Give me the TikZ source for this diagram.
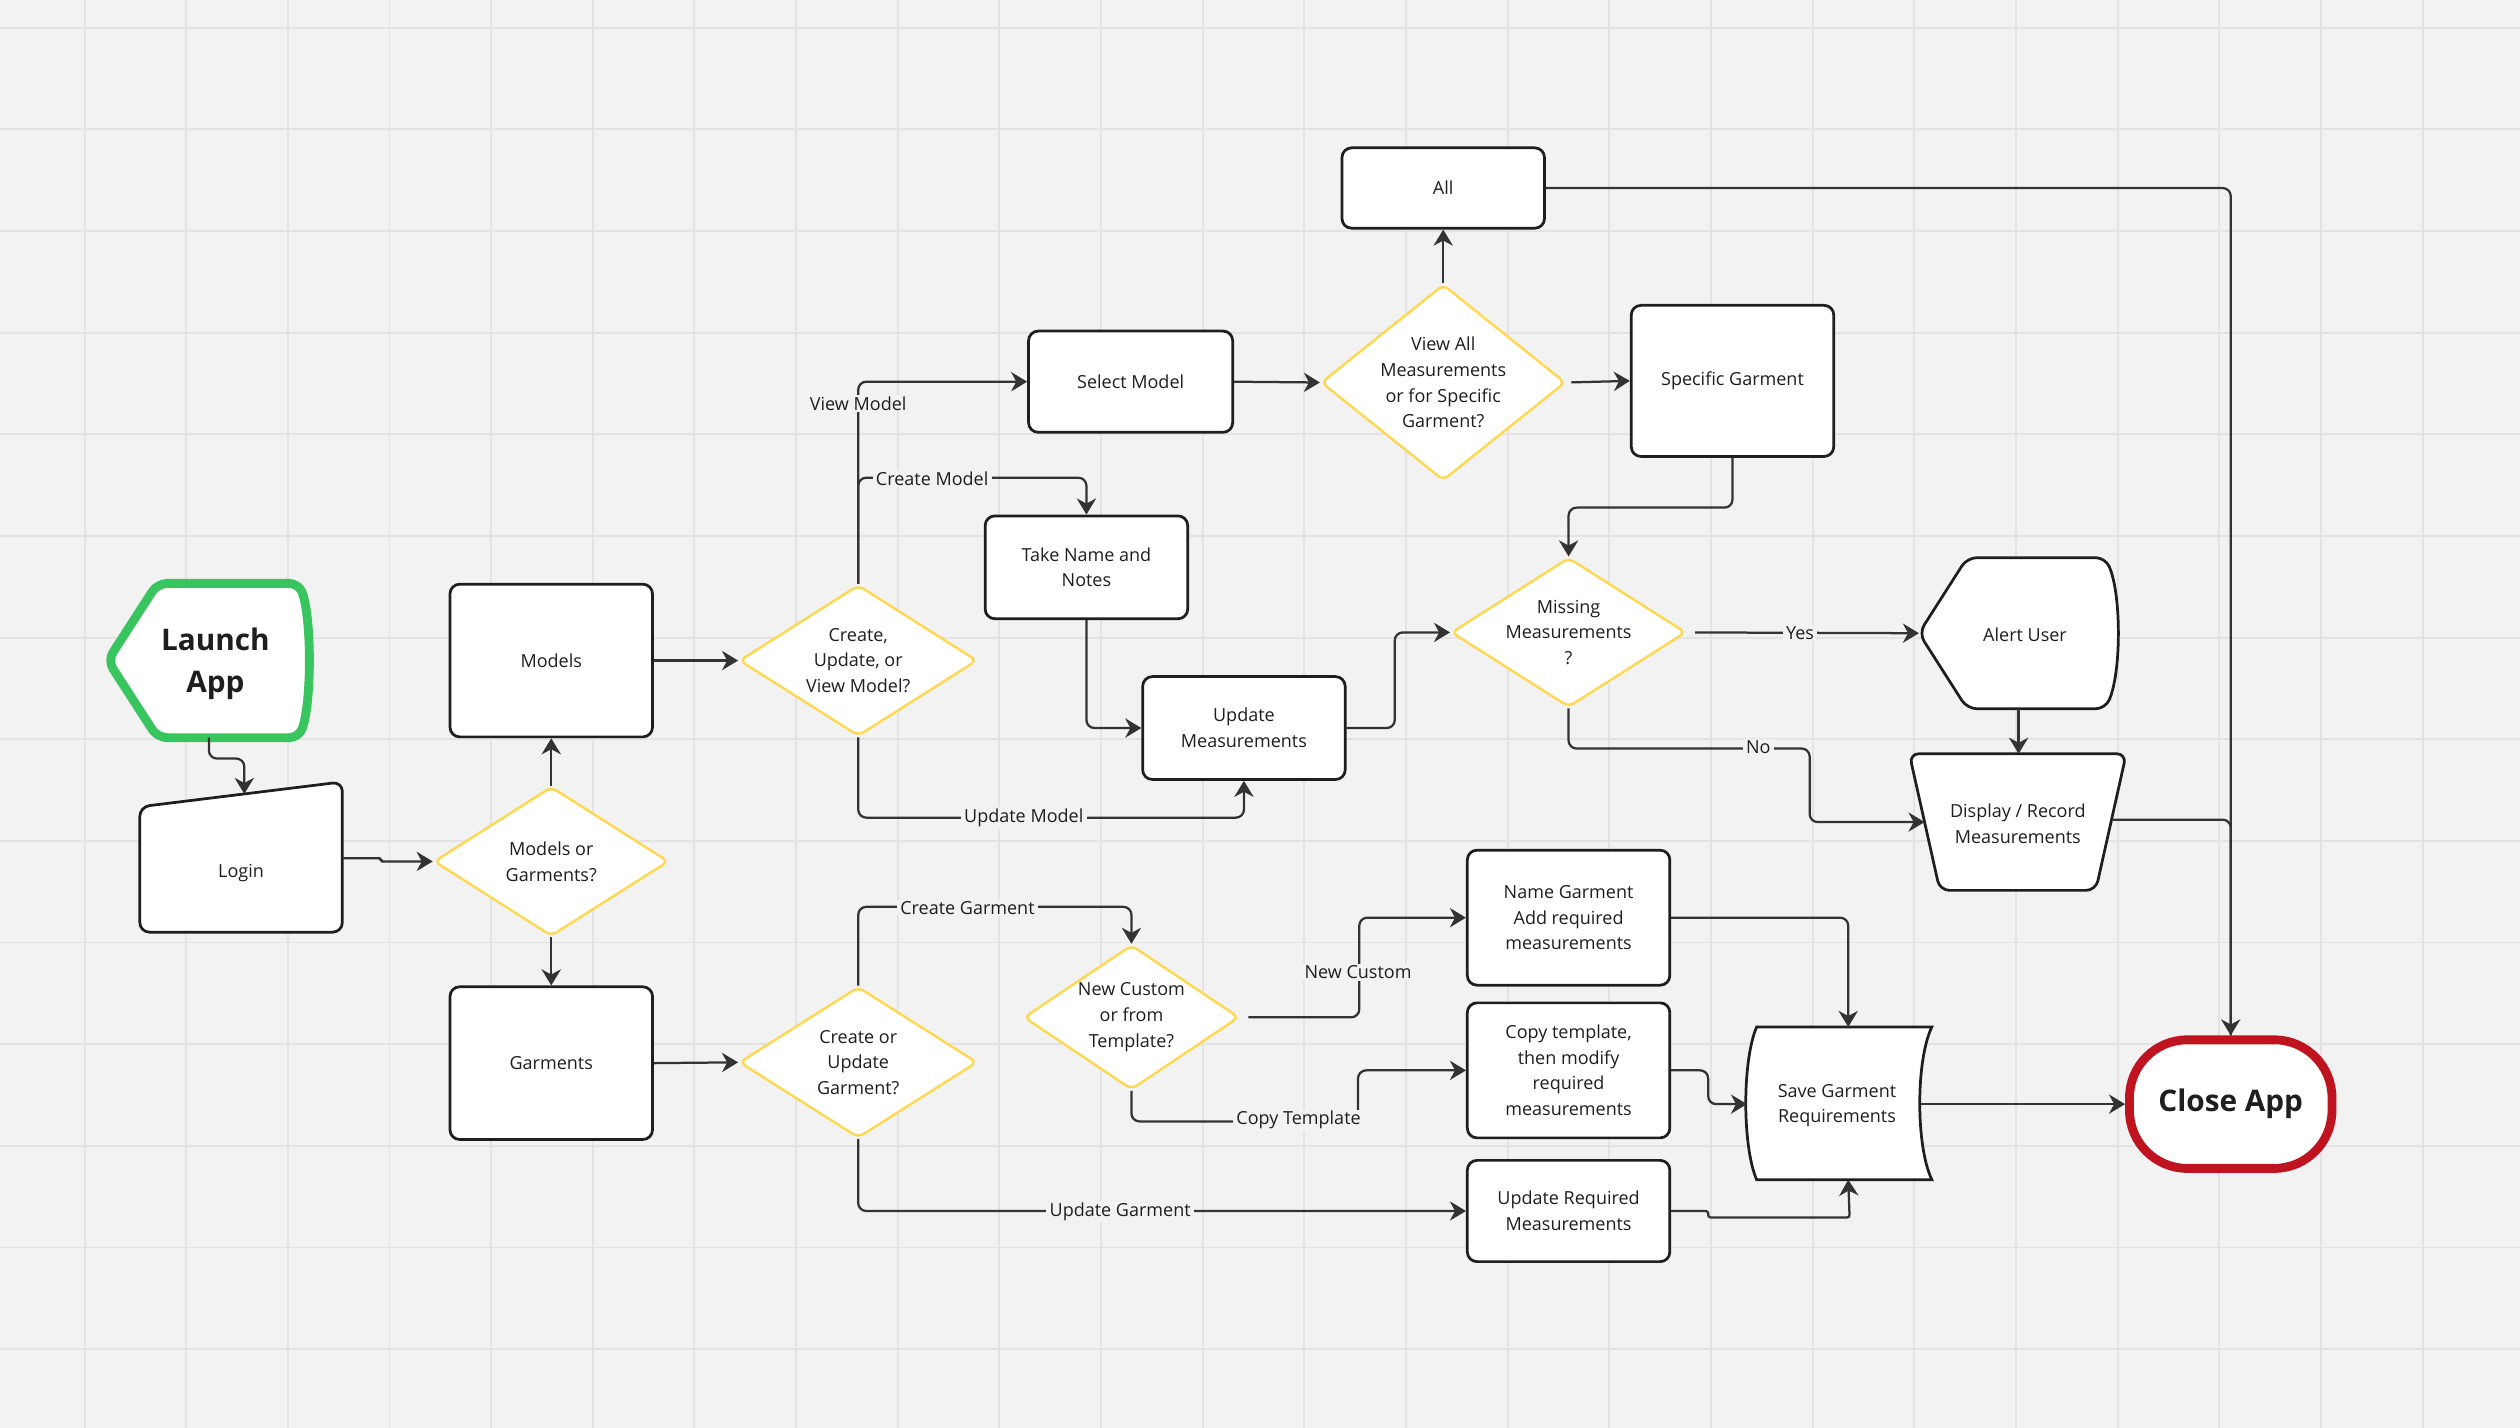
\documentclass[tikz,border=0pt]{standalone}
\usepackage{fontspec}
\setmainfont{Open Sans}
\usetikzlibrary{shapes.geometric,arrows.meta,calc}
\definecolor{bg}{HTML}{F2F2F2}
\definecolor{gridc}{HTML}{E3E3E3}
\definecolor{ink}{HTML}{1E1E1E}
\definecolor{lineC}{HTML}{333333}
\definecolor{yel}{HTML}{FFD84F}
\definecolor{grn}{HTML}{38C45E}
\definecolor{redc}{HTML}{BF1420}
\begin{document}
\begin{tikzpicture}[x=1pt,y=-1pt,
  font=\fontsize{11.2}{16}\selectfont,
  box/.style={draw=ink, line width=1.7, fill=white, rounded corners=6, align=center, inner sep=2, text=ink},
  dia/.style={diamond, draw=yel, line width=1.5, fill=white, rounded corners=4, align=center, inner sep=0, text=ink},
  txtonly/.style={align=center, inner sep=0, text=ink},
  shapeline/.style={draw=ink, line width=1.7, fill=white, rounded corners=6},
  conn/.style={draw=lineC, line width=1.4, rounded corners=5, -{Stealth[length=10pt,width=12pt,inset=3.2pt]}},
  plainline/.style={draw=lineC, line width=1.4, rounded corners=5},
  lbl/.style={fill=bg, inner xsep=2, inner ysep=1, text=ink},
  bigbold/.style={font=\bfseries\fontsize{18.5}{26}\selectfont}]
\useasboundingbox (0,0) rectangle (1568,888.5);
\fill[bg] (0,0) rectangle (1568,888.5);
\foreach \k in {0,...,23} \draw[gridc, line width=1.2] ({52.6+63.25*\k},0) -- ({52.6+63.25*\k},888.5);
\foreach \k in {0,...,13} \draw[gridc, line width=1.2] (0,{17.2+63.25*\k}) -- (1568,{17.2+63.25*\k});

% special shapes drawn directly
\draw[draw=grn, line width=5.5, fill=white, rounded corners=6]
  (98,363) -- (186,363) .. controls (194,385) and (194,437) .. (186,459) -- (98,459) -- (67,411) -- cycle;
\draw[shapeline] (87,502) -- (213,486.5) -- (213,580) -- (87,580) -- cycle;
\draw[shapeline] (1224,347) -- (1310,347) .. controls (1320,370) and (1320,418) .. (1310,441) -- (1224,441) -- (1194,394) -- cycle;
\draw[shapeline] (1188,469) -- (1323,469) -- (1304,554) -- (1207,554) -- cycle;
\draw[draw=ink, line width=1.7, fill=white]
  (1093,639) -- (1202,639) .. controls (1192,660) and (1192,713) .. (1202,734) -- (1093,734) .. controls (1084,713) and (1084,660) .. (1093,639) -- cycle;

% nodes
\node[txtonly, bigbold] (launch) at (130,413) {\hspace*{8pt}Launch\\\hspace*{8pt}App};
\coordinate (launchOut) at (130,459);
\node[txtonly] (login) at (150,543) {Login};
\coordinate (loginTop) at (152,494);
\coordinate (loginOut) at (213,534);
\node[dia, aspect=1.57, minimum width=146, minimum height=93] (mg) at (343,536) {Models or\\Garments?};
\node[box, minimum width=126, minimum height=95] (models) at (343,411) {Models};
\node[box, minimum width=126, minimum height=95] (garments) at (343,661.5) {Garments};
\node[dia, aspect=1.57, minimum width=148, minimum height=94] (cuv) at (534,411) {Create,\\Update, or\\View Model?};
\node[dia, aspect=1.57, minimum width=148, minimum height=94] (cug) at (534,661) {Create or\\Update\\Garment?};
\node[box, minimum width=127, minimum height=63] (select) at (703.5,237.5) {Select Model};
\node[box, minimum width=126, minimum height=64] (take) at (676,353) {Take Name and\\Notes};
\node[box, minimum width=126, minimum height=64] (updm) at (774,453) {Update\\Measurements};
\node[dia, aspect=1.25, minimum width=152, minimum height=122] (vasg) at (898,238) {View All\\Measurements\\or for Specific\\Garment?};
\node[box, minimum width=126, minimum height=50] (all) at (898,117) {All};
\node[box, minimum width=126, minimum height=94] (specific) at (1078,237) {Specific Garment};
\node[dia, aspect=1.57, minimum width=146, minimum height=93] (missing) at (976,393.5) {Missing\\Measurements\\?};
\node[txtonly] (alert) at (1256.5,395) {\hspace*{7pt}Alert User};
\coordinate (alertIn) at (1194,394);
\coordinate (alertOut) at (1256,441);
\node[txtonly] (disp) at (1255.5,512.5) {Display / Record\\Measurements};
\coordinate (dispTop) at (1256,469);
\coordinate (dispIn) at (1197.5,511.5);
\coordinate (dispOut) at (1314,510);
\node[box, minimum width=126, minimum height=84] (ng) at (976,571) {Name Garment\\Add required\\measurements};
\node[dia, aspect=1.49, minimum width=134, minimum height=90] (nct) at (704,633) {New Custom\\or from\\Template?};
\node[box, minimum width=126, minimum height=84] (copy) at (976,666) {Copy template,\\then modify\\required\\measurements};
\node[box, minimum width=126, minimum height=63] (urm) at (976,753.5) {Update Required\\Measurements};
\node[txtonly] (save) at (1143,688) {Save Garment\\Requirements};
\coordinate (saveTop) at (1150,639);
\coordinate (saveBot) at (1150,734);
\coordinate (saveIn) at (1087,687);
\coordinate (saveOut) at (1195,687);
\node[draw=redc, line width=5.5, fill=white, rounded corners=36, minimum width=126, minimum height=80, inner sep=0, text=ink, bigbold] (close) at (1388,687) {\raisebox{-3.5pt}{Close App}};

% connectors
\draw[conn] (launchOut) -- ++(0,13) -| (loginTop);
\draw[conn, rounded corners=1.2] (loginOut) -- ++(24,0) |- (mg.west);
\draw[conn] (mg.north) -- (models.south);
\draw[conn] (mg.south) -- (garments.north);
\draw[conn] (models.east) -- (cuv.west);
\draw[conn] (cuv.north) |- (select.west);
\draw[conn] (cuv.north) -- ++(0,-66) -| (take.north);
\draw[conn] (cuv.south) -- ++(0,50) -| (updm.south);
\draw[conn] (take.south) |- (updm.west);
\draw[conn] (updm.east) -- ++(30,0) |- (missing.west);
\draw[conn] (select.east) -- (vasg.west);
\draw[conn] (vasg.north) -- (all.south);
\draw[conn, shorten <=3] (vasg.east) -- (specific.west);
\draw[conn] (specific.south) -- ++(0,31) -| (missing.north);
\draw[conn, shorten <=5] (missing.east) -- (alertIn);
\draw[conn] (missing.south) -- ++(0,25) -- ++(150,0) |- (dispIn);
\draw[conn] (alertOut) -- (dispTop);
\draw[conn] (all.east) -| (close.north);
\draw[plainline] (dispOut) -| (close.north);
\draw[conn] (garments.east) -- (cug.west);
\draw[conn] (cug.north) -- ++(0,-49) -| (nct.north);
\draw[conn] (cug.south) |- (urm.west);
\draw[conn, shorten <=5] (nct.east) -- ++(74,0) |- (ng.west);
\draw[conn] (nct.south) -- ++(0,19) -- ++(141,0) |- (copy.west);
\draw[conn] (ng.east) -| (saveTop);
\draw[conn] (copy.east) -- ++(23,0) |- (saveIn);
\draw[conn, rounded corners=1.5] (urm.east) -- ++(23,0) -- ++(0,4) -- ++(88,0) -- (saveBot);
\draw[conn] (saveOut) -- (close.west);

% labels
\node[lbl] (lView) at (534,251) {View Model};
\node[lbl] (lCreate) at (580,298) {Create Model};
\node[lbl] (lUpdModel) at (637,509) {Update Model};
\node[lbl] (lYes) at (1120,394) {Yes};
\node[lbl] (lNo) at (1094,465) {No};
\node[lbl] (lCrG) at (602,565) {Create Garment};
\node[lbl] (lUpG) at (697,754) {Update Garment};
\node[lbl] (lNew) at (845,605) {New Custom};
\node[lbl] (lCopy) at (808,697) {Copy Template};
\end{tikzpicture}
\end{document}
